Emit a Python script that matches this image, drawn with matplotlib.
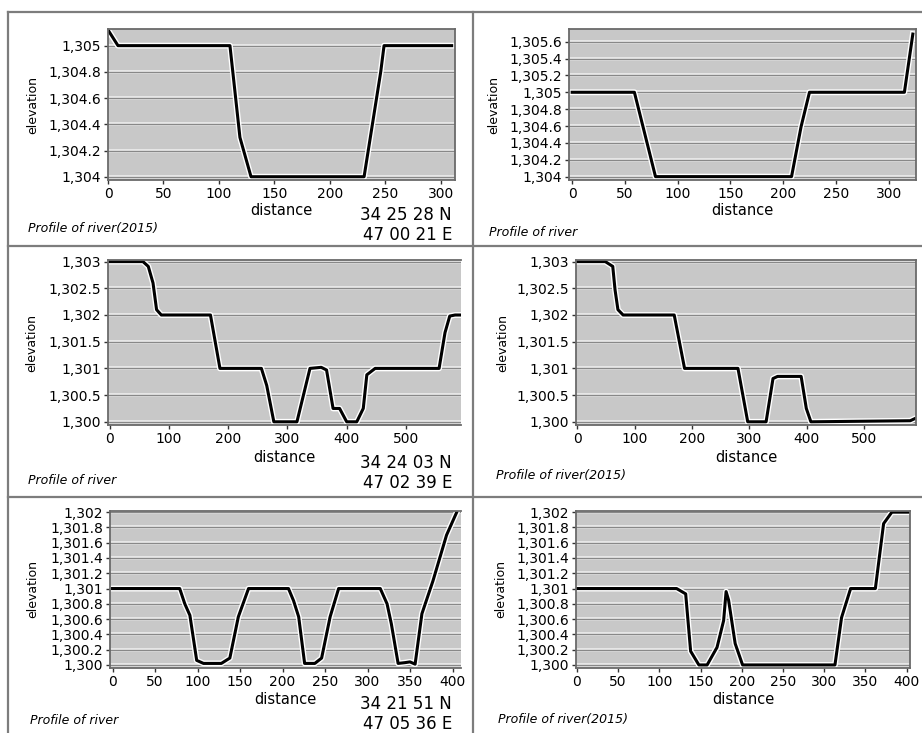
import matplotlib
matplotlib.use('Agg')
import matplotlib.pyplot as plt
import matplotlib.patheffects as pe
from matplotlib.lines import Line2D
from matplotlib.ticker import FuncFormatter

# profile data (distance, elevation)
dist_1 = [0, 9, 110, 119, 129, 231, 246, 249, 310]
elev_1 = [1305.12, 1305.0, 1305.0, 1304.3, 1304.0, 1304.0, 1304.8, 1305.0, 1305.0]

dist_2 = [0, 59, 79, 208, 217, 225, 315, 323]
elev_2 = [1305.0, 1305.0, 1304.0, 1304.0, 1304.59, 1305.0, 1305.0, 1305.69]

dist_3 = [0, 56, 65, 73, 79, 87, 170, 186, 256, 265, 277, 316, 338, 357, 366,
          377, 388, 400, 417, 428, 434, 448, 556, 566, 574, 583, 593]
elev_3 = [1303.0, 1303.0, 1302.91, 1302.6, 1302.1, 1302.0, 1302.0, 1301.0, 1301.0,
          1300.68, 1300.0, 1300.0, 1301.0, 1301.02, 1300.97, 1300.25, 1300.25,
          1300.0, 1300.0, 1300.25, 1300.88, 1301.0, 1301.0, 1301.67, 1301.98,
          1302.0, 1302.0]

dist_4 = [0, 49, 62, 66, 71, 80, 169, 187, 280, 297, 329, 341, 349, 390, 399,
          407, 580, 588]
elev_4 = [1303.0, 1303.0, 1302.91, 1302.47, 1302.1, 1302.0, 1302.0, 1301.0, 1301.0,
          1300.0, 1300.0, 1300.81, 1300.85, 1300.85, 1300.25, 1300.0, 1300.02,
          1300.06]

dist_5 = [0, 79, 85, 91, 99, 107, 128, 138, 148, 160, 207, 213, 219, 226, 238,
          246, 256, 266, 315, 323, 328, 336, 344, 350, 356, 364, 377, 393, 405]
elev_5 = [1301.0, 1301.0, 1300.8, 1300.65, 1300.06, 1300.02, 1300.02, 1300.09,
          1300.63, 1301.0, 1301.0, 1300.84, 1300.63, 1300.02, 1300.02, 1300.09,
          1300.63, 1301.0, 1301.0, 1300.8, 1300.54, 1300.02, 1300.03, 1300.04,
          1300.01, 1300.67, 1301.1, 1301.7, 1302.0]

dist_6 = [0, 121, 132, 138, 148, 158, 170, 178, 181, 184, 192, 201, 313, 321,
          332, 362, 372, 382, 402]
elev_6 = [1301.0, 1301.0, 1300.93, 1300.18, 1300.0, 1300.0, 1300.23, 1300.58,
          1300.96, 1300.85, 1300.28, 1300.0, 1300.0, 1300.62, 1301.0, 1301.0,
          1301.85, 1302.0, 1302.0]

captions = ['Profile of river(2015)', 'Profile of river', 'Profile of river',
            'Profile of river(2015)', 'Profile of river', 'Profile of river(2015)']
coords = [('34 25 28 N', '47 00 21 E'), None, ('34 24 03 N', '47 02 39 E'), None,
          ('34 21 51 N', '47 05 36 E'), None]

W, H = 922, 733


def FigX(px):
    return px / W


def FigY(py):
    return 1 - py / H


def TickFmt(v, pos):
    s = '{:,.1f}'.format(v)
    if s.endswith('.0'):
        s = s[:-2]
    return s


# axes box in pixels: left, right, top, bottom
boxes = [(108, 455, 29, 180), (569, 916, 29, 180),
         (108, 461, 260, 425), (576, 916, 260, 425),
         (110, 461, 511, 668), (576, 910, 511, 668)]
xlims = [(0, 313), (-3, 326), (-3, 593), (-2, 590), (-3, 410), (-1, 404)]
ylims = [(1303.975, 1305.127), (1303.96, 1305.75), (1299.94, 1303.03),
         (1299.94, 1303.03), (1299.96, 1302.015), (1299.96, 1302.015)]
xticks = [range(0, 301, 50), range(0, 301, 50), range(0, 501, 100),
          range(0, 501, 100), range(0, 401, 50), range(0, 401, 50)]
yticks = [[1304 + 0.2 * i for i in range(6)], [1304 + 0.2 * i for i in range(9)],
          [1300 + 0.5 * i for i in range(7)], [1300 + 0.5 * i for i in range(7)],
          [1300 + 0.2 * i for i in range(11)], [1300 + 0.2 * i for i in range(11)]]
profiles = [(dist_1, elev_1), (dist_2, elev_2), (dist_3, elev_3),
            (dist_4, elev_4), (dist_5, elev_5), (dist_6, elev_6)]

# label / caption placement in pixels
ylabel_x = [33, 494, 32, 503, 33, 501]
xlabel_top = [203, 203, 450, 450, 692, 692]
caption_xy = [(28, 229), (489, 232), (28, 480), (496, 475), (30, 720), (498, 720)]
coord_y = [215, None, 463, None, 704, None]

fig = plt.figure(figsize=(9.22, 7.33), dpi=100)
fig.patch.set_facecolor('white')
plt.rcParams['font.family'] = ['DejaVu Sans']

frame_col = '#7d7d7d'
for (x0, x1, y0, y1) in [(8, 922, 12, 12), (8, 922, 246, 246), (8, 922, 497, 497),
                         (8, 8, 12, 733), (473, 473, 12, 733)]:
    fig.add_artist(Line2D([FigX(x0), FigX(x1)], [FigY(y0), FigY(y1)],
                          color=frame_col, lw=1.6))

for i in range(6):
    l, r, t, b = boxes[i]
    ax = fig.add_axes([FigX(l), FigY(b), (r - l) / W, (b - t) / H])
    ax.set_facecolor('#c8c8c8')
    ax.set_xlim(*xlims[i])
    ax.set_ylim(*ylims[i])
    ax.set_xticks(list(xticks[i]))
    ax.set_yticks(yticks[i])
    ax.yaxis.set_major_formatter(FuncFormatter(TickFmt))
    ax.tick_params(labelsize=10, length=3, width=1, color='#333333', pad=2)
    for s in ax.spines.values():
        s.set_color('#6a6a6a')
        s.set_linewidth(1.3)
    if i in (2, 4):
        ax.spines['right'].set_visible(False)
    ax.grid(axis='y', color='#888888', lw=1,
            path_effects=[pe.Stroke(linewidth=2.6, foreground='#eeeeee'), pe.Normal()])
    ax.set_axisbelow(True)

    d, e = profiles[i]
    ax.plot(d, e, color='black', lw=2.2, solid_joinstyle='round',
            path_effects=[pe.Stroke(linewidth=4.2, foreground='white', joinstyle='round'),
                          pe.Normal()])

    ax.set_ylabel('elevation', fontsize=9, va='center')
    ax.yaxis.set_label_coords((ylabel_x[i] - l) / (r - l), 0.5)
    ax.set_xlabel('distance', fontsize=10.5, va='top')
    ax.xaxis.set_label_coords(0.5, (b - xlabel_top[i]) / (b - t))

    cx, cy = caption_xy[i]
    fig.text(FigX(cx), FigY(cy), captions[i], fontsize=9, style='italic',
             ha='left', va='center')
    if coords[i] is not None:
        fig.text(FigX(452), FigY(coord_y[i]), coords[i][0], fontsize=12,
                 ha='right', va='center')
        fig.text(FigX(452), FigY(coord_y[i] + 20), coords[i][1], fontsize=12,
                 ha='right', va='center')

fig.savefig('out.png', dpi=100)
